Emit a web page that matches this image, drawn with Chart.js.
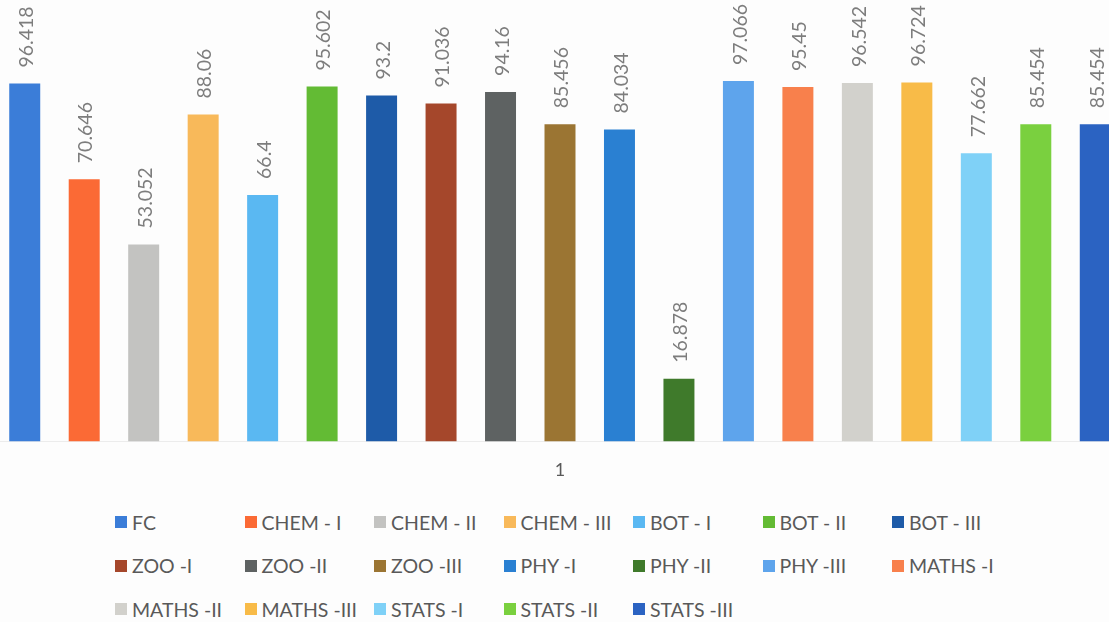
<!DOCTYPE html>
<html>
<head>
<meta charset="utf-8">
<script src="https://cdn.jsdelivr.net/npm/chart.js@4.4.0/dist/chart.umd.min.js"></script>
<style>
  html, body { margin: 0; padding: 0; background: #fdfdfd; overflow: hidden; width: 1109px; height: 622px; }
  #wrap { position: absolute; left: -5px; top: -4px; }
  #legend {
    position: absolute; left: 115px; top: 510px;
    display: grid; grid-template-columns: repeat(7, 129.5px); grid-auto-rows: 43.5px;
    font-family: Lato, "Open Sans", sans-serif; font-size: 19.5px; color: #595959;
  }
  #legend .item { display: flex; align-items: center; white-space: nowrap; height: 24px; }
  #legend .box { width: 12px; height: 12px; margin-right: 5px; flex: none; }
</style>
</head>
<body>
<div id="wrap"><canvas id="scoreChart" width="1130" height="503"></canvas></div>
<div id="legend"></div>
<script>
const categories = ["1"];
const seriesNames = [
  "FC", "CHEM - I", "CHEM - II", "CHEM - III", "BOT - I", "BOT - II", "BOT - III",
  "ZOO -I", "ZOO -II", "ZOO -III", "PHY -I", "PHY -II", "PHY -III", "MATHS -I",
  "MATHS -II", "MATHS -III", "STATS -I", "STATS -II", "STATS -III",
];
const seriesValues = [
  96.418, 70.646, 53.052, 88.06, 66.4, 95.602, 93.2,
  91.036, 94.16, 85.456, 84.034, 16.878, 97.066, 95.45,
  96.542, 96.724, 77.662, 85.454, 85.454,
];
const seriesColors = [
  "#3b7dd8", "#fb6a35", "#c3c3c1", "#f8b95a", "#5ab8f2", "#63bb34", "#1e5ba8",
  "#a5472b", "#5e6262", "#9b7533", "#2a80d2", "#3f7a2b", "#5ea4ec", "#f8804c",
  "#d2d1cc", "#f8bb48", "#7fd1f7", "#7ad03f", "#2b63c2",
];

// rotated value labels above each bar
const valueLabels = {
  id: "valueLabels",
  afterDatasetsDraw(chart) {
    const ctx = chart.ctx;
    ctx.save();
    ctx.font = "19.5px Lato, 'Open Sans', sans-serif";
    ctx.fillStyle = "#7d7d7d";
    ctx.textAlign = "left";
    ctx.textBaseline = "middle";
    chart.data.datasets.forEach((ds, i) => {
      const bar = chart.getDatasetMeta(i).data[0];
      ctx.save();
      ctx.translate(bar.x + 2, bar.y - 16);
      ctx.rotate(-Math.PI / 2);
      ctx.fillText(String(ds.data[0]), 0, 0);
      ctx.restore();
    });
    ctx.restore();
  },
};

document.addEventListener("DOMContentLoaded", () => {
  const ctx = document.getElementById("scoreChart").getContext("2d");

  const chartData = {
    labels: categories,
    datasets: seriesNames.map((name, i) => ({
      label: name,
      data: [seriesValues[i]],
      backgroundColor: seriesColors[i],
      categoryPercentage: 1,
      barPercentage: 0.521,
    })),
  };

  const config = {
    type: "bar",
    data: chartData,
    options: {
      responsive: false,
      animation: false,
      layout: { padding: 0 },
      plugins: {
        legend: { display: false },
        tooltip: { enabled: false },
      },
      scales: {
        y: {
          display: false,
          min: 0,
          max: 120,
        },
        x: {
          grid: { display: false, drawTicks: false },
          border: { display: true, color: "#ececec" },
          ticks: {
            padding: 18,
            color: "#595959",
            font: { family: "Lato, 'Open Sans', sans-serif", size: 18 },
          },
        },
      },
    },
    plugins: [valueLabels],
  };

  new Chart(ctx, config);

  const legend = document.getElementById("legend");
  seriesNames.forEach((name, i) => {
    const item = document.createElement("div");
    item.className = "item";
    item.innerHTML = `<span class="box" style="background:${seriesColors[i]}"></span><span>${name}</span>`;
    legend.appendChild(item);
  });
});
</script>
</body>
</html>
